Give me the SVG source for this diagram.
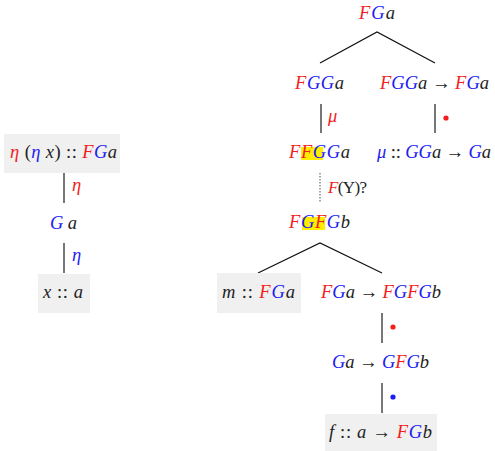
<svg xmlns="http://www.w3.org/2000/svg" width="495" height="451" viewBox="0 0 495 451">
<style>
.t{font-family:"Liberation Serif","DejaVu Serif",serif;font-size:18.5px;font-style:italic;fill:#222}
.r{fill:#f21d1d}
.b{fill:#1d1df2}
.u{font-style:normal}
.box{fill:#f0f0f0}
.ln{stroke:#111;stroke-width:1.2;fill:none}
.vl{stroke:#555;stroke-width:1.6}
.hl{fill:#ffee00}
</style>
<rect width="495" height="451" fill="#fff"/>
<g id="connectors">
<line class="vl" x1="64" y1="173" x2="64" y2="203"/>
<line class="vl" x1="64" y1="243" x2="64" y2="273"/>
<polyline class="ln" points="320,63 377,32 435,63"/>
<line class="vl" x1="321" y1="104" x2="321" y2="133"/>
<line class="vl" x1="435" y1="104" x2="435" y2="133"/>
<line x1="320" y1="173" x2="320" y2="203" stroke="#777" stroke-width="1.3" stroke-dasharray="1.5,1.5"/>
<polyline class="ln" points="258,273 320,243 382,273"/>
<line class="vl" x1="382" y1="313" x2="382" y2="343"/>
<line class="vl" x1="382" y1="383" x2="382" y2="413"/>
<text class="t r" x="72" y="191">η</text>
<text class="t b" x="72" y="261">η</text>
<text class="t r" x="328" y="122">μ</text>
<circle cx="446" cy="118" r="2.6" fill="#f21d1d"/>
<text class="t" x="328" y="193" textLength="39" style="font-size:17px"><tspan class="r">F</tspan><tspan class="u">(Υ)?</tspan></text>
<circle cx="393" cy="327" r="2.6" fill="#f21d1d"/>
<circle cx="393" cy="397" r="2.6" fill="#1d1df2"/>
</g>
<g id="n_etaeta">
<rect class="box" x="4" y="134" width="116" height="39"/>
<text class="t" x="10" y="158" textLength="107"><tspan class="r">η</tspan><tspan class="u"> (</tspan><tspan class="b">η</tspan> x<tspan class="u">) :: </tspan><tspan class="r">F</tspan><tspan class="b">G</tspan>a</text>
</g>
<g id="n_Ga_left">
<text class="t" x="50" y="229" textLength="27"><tspan class="b">G</tspan>a</text>
</g>
<g id="n_x">
<rect class="box" x="38" y="274" width="52" height="39"/>
<text class="t" x="43" y="298" textLength="40">x<tspan class="u"> :: </tspan>a</text>
</g>
<g id="n_FGa_top">
<text class="t" x="359" y="19" textLength="36"><tspan class="r">F</tspan><tspan class="b">G</tspan>a</text>
</g>
<g id="n_FGGa">
<text class="t" x="295" y="89" textLength="49"><tspan class="r">F</tspan><tspan class="b">GG</tspan>a</text>
</g>
<g id="n_FGGa_FGa">
<text class="t" x="380" y="89" textLength="109"><tspan class="r">F</tspan><tspan class="b">GG</tspan>a<tspan class="u"> → </tspan><tspan class="r">F</tspan><tspan class="b">G</tspan>a</text>
</g>
<g id="n_FFGGa">
<rect class="hl" x="301" y="147" width="22" height="13"/>
<text class="t" x="289" y="158" textLength="61"><tspan class="r">FF</tspan><tspan class="b">GG</tspan>a</text>
</g>
<g id="n_mu">
<text class="t" x="377" y="158" textLength="114"><tspan class="b">μ</tspan><tspan class="u"> :: </tspan><tspan class="b">GG</tspan>a<tspan class="u"> → </tspan><tspan class="b">G</tspan>a</text>
</g>
<g id="n_FGFGb">
<rect class="hl" x="302" y="217" width="23" height="13"/>
<text class="t" x="289" y="228" textLength="61"><tspan class="r">F</tspan><tspan class="b">G</tspan><tspan class="r">F</tspan><tspan class="b">G</tspan>b</text>
</g>
<g id="n_m">
<rect class="box" x="217" y="273" width="84" height="40"/>
<text class="t" x="222" y="298" textLength="73">m<tspan class="u"> :: </tspan><tspan class="r">F</tspan><tspan class="b">G</tspan>a</text>
</g>
<g id="n_FGa_FGFGb">
<text class="t" x="321" y="298" textLength="120"><tspan class="r">F</tspan><tspan class="b">G</tspan>a<tspan class="u"> → </tspan><tspan class="r">F</tspan><tspan class="b">G</tspan><tspan class="r">F</tspan><tspan class="b">G</tspan>b</text>
</g>
<g id="n_Ga_GFGb">
<text class="t" x="332" y="368" textLength="97"><tspan class="b">G</tspan>a<tspan class="u"> → </tspan><tspan class="b">G</tspan><tspan class="r">F</tspan><tspan class="b">G</tspan>b</text>
</g>
<g id="n_f">
<rect class="box" x="325" y="414" width="112" height="37"/>
<text class="t" x="329" y="438" textLength="103">f<tspan class="u"> :: </tspan>a<tspan class="u"> → </tspan><tspan class="r">F</tspan><tspan class="b">G</tspan>b</text>
</g>
</svg>
